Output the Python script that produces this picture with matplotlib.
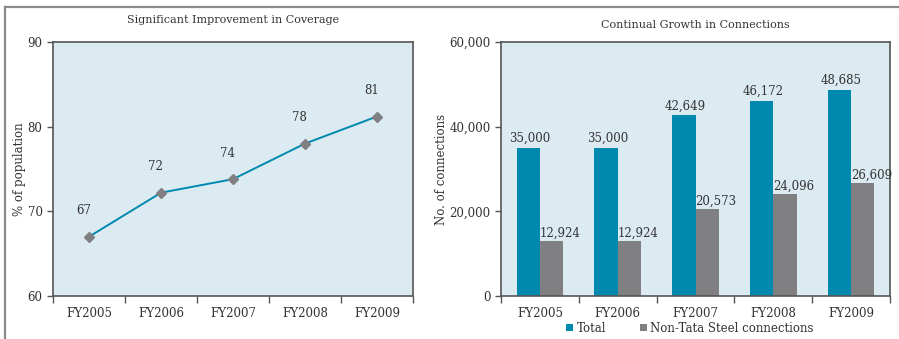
import matplotlib
matplotlib.use("Agg")
import matplotlib.pyplot as plt
from matplotlib.lines import Line2D
from matplotlib.ticker import FuncFormatter
import numpy as np

years = ["FY2005", "FY2006", "FY2007", "FY2008", "FY2009"]
coverage = [67, 72.2, 73.8, 78, 81.2]
coverage_lbl = ["67", "72", "74", "78", "81"]
total_conn = [35000, 35000, 42649, 46172, 48685]
non_tata = [12924, 12924, 20573, 24096, 26609]

TEAL = "#0089AF"
GREY = "#808083"
BG = "#DCEBF2"
TXT = "#333333"
SPINE = "#555555"

plt.rcParams["font.family"] = ["DejaVu Serif"]
plt.rcParams["font.size"] = 8

fig = plt.figure(figsize=(8.99, 3.39), dpi=100, facecolor="white")

W, H = 899, 339
def box(x0, y0, x1, y1):
    return [x0 / W, 1 - y1 / H, (x1 - x0) / W, (y1 - y0) / H]

def style(ax):
    ax.set_facecolor(BG)
    for s in ax.spines.values():
        s.set_color(SPINE)
        s.set_linewidth(1.2)
    ax.tick_params(colors=TXT, labelcolor=TXT, labelsize=8.5, direction="out")
    ax.tick_params(axis="y", length=4, width=1, color=SPINE)
    ax.tick_params(axis="x", which="major", length=5, width=1, color=SPINE)

x = np.arange(len(years))

# ── left: coverage line ──────────────────────────────────────────────────────
ax1 = fig.add_axes(box(53, 42, 413, 296))
style(ax1)
ax1.plot(x, coverage, color=TEAL, lw=1.4, marker="D", ms=5,
         mfc=GREY, mec=GREY, zorder=3)
for xi, v, t in zip(x, coverage, coverage_lbl):
    ax1.annotate(t, (xi, v), xytext=(-4, 14), textcoords="offset points",
                 ha="center", va="bottom", fontsize=8.5, color=TXT)
ax1.set_xlim(-0.5, 4.5)
ax1.set_ylim(60, 90)
ax1.set_yticks([60, 70, 80, 90])
ax1.set_xticks(np.arange(-0.5, 5, 1))
ax1.set_xticklabels([])
ax1.set_xticks(x, minor=True)
ax1.set_xticklabels(years, minor=True)
ax1.tick_params(axis="x", which="minor", length=0, pad=8, labelsize=8.5, labelcolor=TXT)
ax1.set_ylabel("% of population", color=TXT, fontsize=8.5, labelpad=1)
ax1.set_title("Significant Improvement in Coverage", color=TXT, fontsize=8, pad=14)

# ── right: connections bars ─────────────────────────────────────────────────
ax2 = fig.add_axes(box(501, 42, 890, 296))
style(ax2)
bw = 0.3
b1 = ax2.bar(x - bw / 2, total_conn, bw, color=TEAL, label="Total", zorder=2)
b2 = ax2.bar(x + bw / 2, non_tata, bw, color=GREY,
             label="Non-Tata Steel connections", zorder=2)
for xi, v in zip(x, total_conn):
    ax2.annotate(f"{v:,}", (xi - bw / 2, v), xytext=(1, 2), textcoords="offset points",
                 ha="center", va="bottom", fontsize=8.5, color=TXT)
for xi, v in zip(x, non_tata):
    ax2.annotate(f"{v:,}", (xi, v), xytext=(0, 1), textcoords="offset points",
                 ha="left", va="bottom", fontsize=8.5, color=TXT)
ax2.set_xlim(-0.5, 4.5)
ax2.set_ylim(0, 60000)
ax2.set_yticks([0, 20000, 40000, 60000])
ax2.yaxis.set_major_formatter(FuncFormatter(lambda v, p: f"{int(v):,}"))
ax2.set_xticks(np.arange(-0.5, 5, 1))
ax2.set_xticklabels([])
ax2.set_xticks(x, minor=True)
ax2.set_xticklabels(years, minor=True)
ax2.tick_params(axis="x", which="minor", length=0, pad=8, labelsize=8.5, labelcolor=TXT)
ax2.set_ylabel("No. of connections", color=TXT, fontsize=8.5, labelpad=1)
ax2.set_title("Continual Growth in Connections", color=TXT, fontsize=8, pad=10)

fig.legend(handles=[b1, b2], loc="center", bbox_to_anchor=(690 / W, 1 - 328 / H),
           ncol=2, frameon=False, fontsize=8.5, handlelength=0.6, handleheight=0.6,
           handletextpad=0.3, columnspacing=2.8, labelcolor=TXT)

# ── page frame lines ────────────────────────────────────────────────────────
fig.add_artist(Line2D([5 / W, 1], [1 - 7 / H, 1 - 7 / H], color="#8a8a8a", lw=1.6,
                      transform=fig.transFigure))
fig.add_artist(Line2D([5 / W, 5 / W], [0, 1 - 7 / H], color="#8a8a8a", lw=1.6,
                      transform=fig.transFigure))

fig.savefig("out.png", dpi=100, facecolor="white")
